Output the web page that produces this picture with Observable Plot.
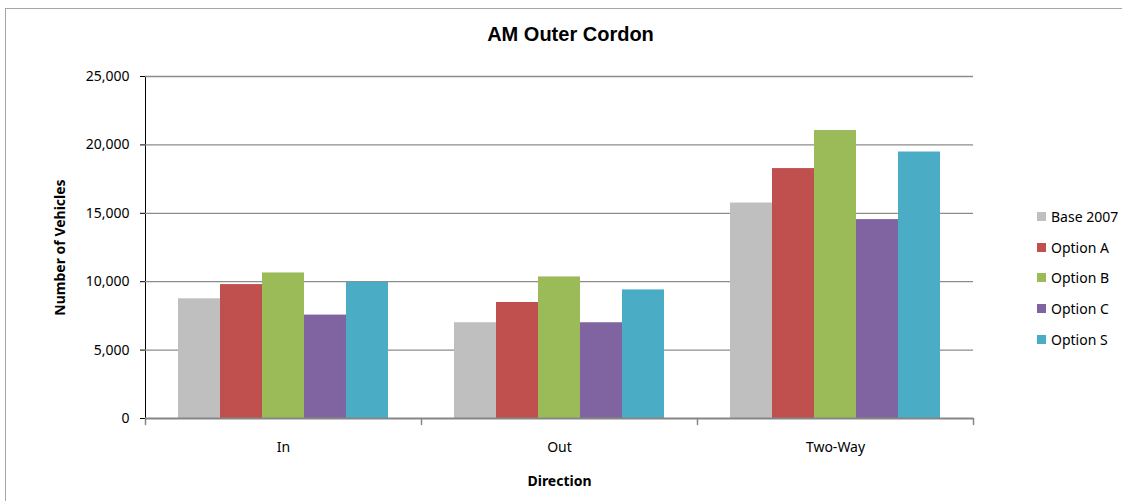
<!DOCTYPE html>
<html>
<head>
<meta charset="utf-8">
<script src="https://cdn.jsdelivr.net/npm/d3@7"></script>
<script src="https://cdn.jsdelivr.net/npm/@observablehq/plot@0.6"></script>
<style>
  html, body { margin: 0; padding: 0; background: #fff; }
  #chart { position: relative; width: 1122px; height: 501px; overflow: hidden; font-family: 'Noto Sans', sans-serif; }
  #border { position: absolute; left: 5px; top: 8px; width: 1300px; height: 700px; border: 1.5px solid #a6a6a6; box-sizing: border-box; }
  #title { position: absolute; left: 0; top: 23px; width: 1141px; text-align: center; font-family: 'Liberation Sans', Arial, sans-serif; font-weight: bold; font-size: 20px; color: #000; }
  #plot { position: absolute; left: 0; top: 0; }
  #plot svg g[aria-label$="axis label"] text { font-weight: bold; }
  #legend { position: absolute; left: 1037px; top: 201px; font-size: 14px; color: #000; }
  .row { display: flex; align-items: center; height: 30.8px; }
  .sw { width: 9px; height: 9px; margin-right: 5px; }
</style>
</head>
<body>
<div id="chart">
  <div id="border"></div>
  <div id="title">AM Outer Cordon</div>
  <div id="plot"></div>
  <div id="legend"></div>
</div>
<script>
// Traffic counts across the AM outer cordon, by direction and scenario
const directions = ["In", "Out", "Two-Way"];
const seriesNames = ["Base 2007", "Option A", "Option B", "Option C", "Option S"];
const seriesColors = ["#bfbfbf", "#c0504d", "#9bbb59", "#8064a2", "#4bacc6"];

const base2007 = [8750, 7000, 15750];
const optionA = [9790, 8480, 18270];
const optionB = [10640, 10350, 21050];
const optionC = [7560, 7000, 14540];
const optionS = [9960, 9400, 19480];

const yTicks = [0, 5000, 10000, 15000, 20000, 25000];

const seriesValues = [base2007, optionA, optionB, optionC, optionS];
const rows = [];
directions.forEach((dir, i) => {
  seriesNames.forEach((name, j) => {
    rows.push({direction: dir, series: name, value: seriesValues[j][i]});
  });
});

// Short downward stroke used as a tick at each group boundary
const tickShape = {draw(context, l) { context.moveTo(0, 0); context.lineTo(0, -l); }};

const chart = Plot.plot({
  width: 1122,
  height: 501,
  marginLeft: 145,
  marginRight: 149,
  marginTop: 76,
  marginBottom: 83,
  style: {fontFamily: "'Noto Sans', sans-serif", fontSize: "14px", color: "#000", background: "transparent"},
  fx: {
    domain: directions,
    padding: 0,
    label: "Direction",
    labelAnchor: "center",
    tickSize: 0,
    tickPadding: 24,
    labelOffset: 67
  },
  x: {domain: seriesNames, paddingInner: 0, paddingOuter: 0.765, axis: null},
  y: {
    domain: [0, 25000],
    ticks: yTicks,
    tickFormat: d3.format(","),
    label: "Number of Vehicles",
    labelAnchor: "center",
    labelArrow: "none",
    labelOffset: 90,
    tickSize: 5,
    tickPadding: 11,
    line: true
  },
  color: {domain: seriesNames, range: seriesColors},
  marks: [
    Plot.gridY(yTicks.filter(d => d > 0), {stroke: "#8c8c8c", strokeOpacity: 1, strokeWidth: 1.3}),
    Plot.barY(rows, {fx: "direction", x: "series", y: "value", fill: "series"}),
    Plot.ruleY([0], {stroke: "#868686", strokeWidth: 2}),
    Plot.vector(directions, {fx: d => d, frameAnchor: "bottom-left", length: 6, rotate: 180, anchor: "start", shape: tickShape, stroke: "#868686", strokeWidth: 1.5}),
    Plot.vector(directions.slice(-1), {fx: d => d, frameAnchor: "bottom-right", length: 6, rotate: 180, anchor: "start", shape: tickShape, stroke: "#868686", strokeWidth: 1.5})
  ]
});
document.getElementById("plot").appendChild(chart);

// Legend built from the same series names and colours
const legend = document.getElementById("legend");
seriesNames.forEach((name, j) => {
  const row = document.createElement("div");
  row.className = "row";
  const sw = document.createElement("div");
  sw.className = "sw";
  sw.style.background = seriesColors[j];
  const label = document.createElement("span");
  label.textContent = name;
  row.appendChild(sw);
  row.appendChild(label);
  legend.appendChild(row);
});
</script>
</body>
</html>
